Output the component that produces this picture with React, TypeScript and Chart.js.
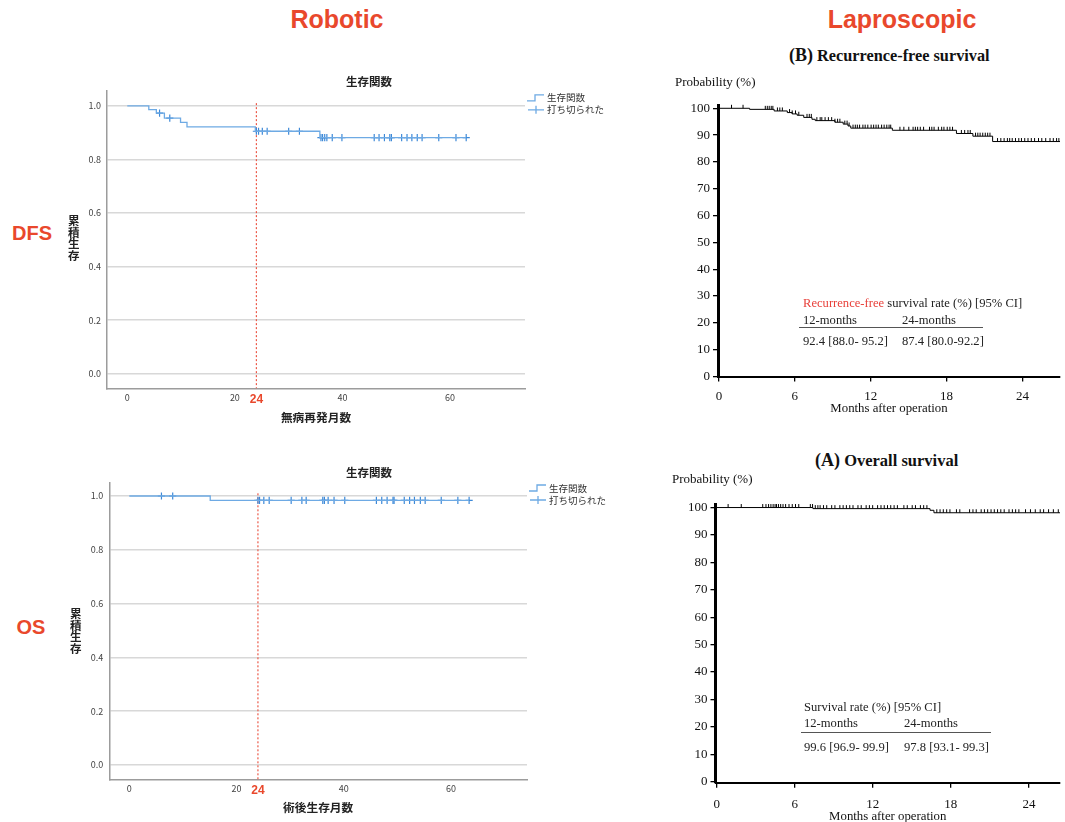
import React, { useEffect, useRef } from "react";
import { Chart, registerables } from "chart.js";

Chart.register(...registerables);

// ---------------- data ----------------
// Robotic (SPSS style) – months / cumulative survival
const roboXTicks = [0, 20, 24, 40, 60];
const roboYTicks = [0, 0.2, 0.4, 0.6, 0.8, 1.0];
const roboLegendLabels = ["生存関数", "打ち切られた"];

const roboDfsTimes = [0, 4.0, 5.4, 6.9, 9.9, 11.1, 23.8, 35.8, 63.0];
const roboDfsSurv = [1.0, 0.986, 0.973, 0.954, 0.938, 0.921, 0.905, 0.881, 0.881];
const roboDfsCensor = [6.0, 7.9, 24.0, 24.4, 25.1, 26.0, 30.0, 32.0, 36.0, 36.3, 36.7, 37.1, 38.1, 39.9, 45.9, 46.8, 47.8, 48.8, 49.1, 51.0, 52.0, 52.9, 53.9, 54.8, 57.9, 61.1, 63.0];

const roboOsTimes = [0, 15.1, 63.4];
const roboOsSurv = [1.0, 0.984, 0.984];
const roboOsCensor = [6.0, 8.1, 24.0, 24.3, 25.1, 26.1, 30.2, 32.2, 33.0, 36.1, 36.4, 37.1, 38.2, 40.2, 46.1, 47.1, 48.1, 49.2, 49.4, 51.3, 52.3, 53.2, 54.3, 55.2, 58.2, 61.3, 63.4];

// Laparoscopic (published figure) – months / probability (%)
const lapXTicks = [0, 6, 12, 18, 24];
const lapYTicks = [0, 10, 20, 30, 40, 50, 60, 70, 80, 90, 100];

const lapRfsTimes = [0, 2.42, 4.36, 5.4, 5.79, 6.18, 6.7, 7.35, 7.61, 9.17, 9.82, 10.2, 10.42, 13.71, 18.78, 20.08, 21.64, 27.0];
const lapRfsSurv = [100, 99.6, 99.0, 98.4, 97.9, 97.4, 96.6, 95.9, 95.4, 94.8, 94.1, 93.4, 92.6, 91.8, 90.6, 89.6, 87.6, 87.6];
const lapRfsCensor = [0.99, 1.9, 3.66, 3.82, 3.97, 4.13, 4.26, 4.62, 4.81, 5.01, 5.58, 5.79, 6.05, 6.31, 6.96, 7.14, 7.3, 7.74, 8.0, 8.13, 8.39, 8.65, 8.91, 9.17, 9.38, 9.56, 9.95, 10.13, 10.29, 10.6, 10.78, 10.94, 11.12, 11.38, 11.56, 11.77, 12.03, 12.23, 12.42, 12.6, 12.86, 13.06, 13.27, 13.45, 13.58, 14.31, 14.62, 15.01, 15.35, 15.53, 15.71, 15.92, 16.18, 16.65, 16.83, 17.01, 17.35, 17.61, 17.79, 18.05, 18.26, 18.47, 19.17, 19.43, 19.69, 19.87, 20.29, 20.47, 20.65, 20.86, 21.06, 21.25, 21.43, 22.03, 22.29, 22.55, 22.81, 22.99, 23.19, 23.45, 23.71, 23.92, 24.18, 24.44, 24.7, 24.96, 25.27, 25.53, 25.84, 26.18, 26.44, 26.7, 26.88];

const lapOsTimes = [0, 7.4, 16.4, 16.7, 26.4];
const lapOsSurv = [100, 99.6, 99.0, 98.1, 98.1];
const lapOsCensor = [0.88, 1.89, 3.54, 3.79, 3.99, 4.17, 4.34, 4.49, 4.6, 4.75, 4.92, 5.1, 5.3, 5.56, 5.81, 6.06, 6.31, 7.2, 7.37, 7.58, 7.78, 7.95, 8.21, 8.46, 8.84, 9.09, 9.47, 9.72, 9.97, 10.23, 10.48, 10.86, 11.11, 11.49, 11.74, 11.99, 12.37, 12.63, 12.88, 13.13, 13.38, 13.64, 13.89, 14.39, 14.65, 15.03, 15.28, 15.66, 15.91, 16.16, 16.92, 17.17, 17.42, 17.68, 17.93, 18.43, 18.69, 19.44, 19.7, 19.95, 20.33, 20.58, 20.83, 21.09, 21.34, 21.59, 21.84, 22.1, 22.47, 22.73, 22.98, 23.23, 23.74, 24.12, 24.49, 24.87, 25.13, 25.51, 25.88, 26.26];

// ---------------- styling ----------------
const SANS_JP = '"Noto Sans CJK JP", "Noto Sans", sans-serif';
const SERIF = '"Liberation Serif", "DejaVu Serif", serif';
const SANS = '"Liberation Sans", Arial, sans-serif';
const RED = "#e9482c";
const DASH_RED = "#ec5a4a";
const ROBO_LINE = "#6eaae4";
const ROBO_CROSS = "#3d89d8";

function survAt(times: number[], surv: number[], t: number) {
  let s = surv[0];
  for (let i = 0; i < times.length; i++) if (times[i] <= t) s = surv[i];
  return s;
}
const stepPoints = (times: number[], surv: number[]) => times.map((t, i) => ({ x: t, y: surv[i] }));
const censorPoints = (times: number[], surv: number[], cens: number[]) =>
  cens.map((c) => ({ x: c, y: survAt(times, surv, c) }));

const roboExtras = {
  id: "roboExtras",
  beforeDatasetsDraw(chart: any) {
    const { ctx, chartArea, scales } = chart;
    const px = scales.x.getPixelForValue(24);
    ctx.save();
    ctx.strokeStyle = DASH_RED;
    ctx.lineWidth = 1.2;
    ctx.setLineDash([2, 2]);
    ctx.beginPath();
    ctx.moveTo(px, scales.y.getPixelForValue(1.01));
    ctx.lineTo(px, chartArea.bottom);
    ctx.stroke();
    ctx.restore();
  },
  afterDraw(chart: any) {
    const { ctx, chartArea, scales } = chart;
    const x0 = chartArea.right + 2;
    const r1 = scales.y.getPixelForValue(1.0) - 8;
    const r2 = r1 + 12;
    ctx.save();
    ctx.lineWidth = 1.3;
    ctx.strokeStyle = ROBO_LINE;
    ctx.beginPath();
    ctx.moveTo(x0, r1 + 3);
    ctx.lineTo(x0 + 8, r1 + 3);
    ctx.lineTo(x0 + 8, r1 - 3);
    ctx.lineTo(x0 + 17, r1 - 3);
    ctx.stroke();
    ctx.beginPath();
    ctx.moveTo(x0 + 1, r2);
    ctx.lineTo(x0 + 17, r2);
    ctx.moveTo(x0 + 9, r2 - 4);
    ctx.lineTo(x0 + 9, r2 + 4);
    ctx.stroke();
    ctx.fillStyle = "#333";
    ctx.font = `9.5px ${SANS_JP}`;
    ctx.textBaseline = "middle";
    ctx.fillText(roboLegendLabels[0], x0 + 20, r1);
    ctx.fillText(roboLegendLabels[1], x0 + 20, r2);
    ctx.restore();
  },
};

function roboConfig(p: any) {
  return {
    type: "scatter",
    data: {
      datasets: [
        {
          data: stepPoints(p.times, p.surv),
          showLine: true,
          stepped: true,
          borderColor: ROBO_LINE,
          borderWidth: 1.3,
          pointRadius: 0,
          fill: false,
        },
        {
          data: censorPoints(p.times, p.surv, p.censor),
          showLine: false,
          pointStyle: "cross",
          pointRadius: 3.6,
          pointBorderColor: ROBO_CROSS,
          pointBackgroundColor: ROBO_CROSS,
          pointBorderWidth: 1.2,
        },
      ],
    },
    options: {
      animation: false,
      responsive: false,
      events: [],
      layout: { padding: { left: 0, right: p.padRight, top: p.padTop, bottom: 0 } },
      plugins: { legend: { display: false }, tooltip: { enabled: false }, title: { display: false } },
      scales: {
        x: {
          type: "linear",
          min: p.xMin,
          max: p.xMax,
          afterBuildTicks: (s: any) => {
            s.ticks = roboXTicks.map((v) => ({ value: v }));
          },
          afterFit: (s: any) => {
            s.height = p.xHeight;
          },
          grid: { display: false, drawTicks: false },
          border: { display: true, color: "#9c9c9c", width: 1.5 },
          ticks: {
            autoSkip: false,
            maxRotation: 0,
            padding: 4,
            callback: (v: any) => String(v),
            font: (c: any) =>
              c.tick && c.tick.value === 24
                ? { family: SANS, size: 12, weight: "bold" }
                : { family: SANS_JP, size: 9 },
            color: (c: any) => (c.tick && c.tick.value === 24 ? RED : "#444"),
          },
          title: {
            display: true,
            text: p.xTitle,
            color: "#222",
            font: { family: SANS_JP, size: 11.7, weight: "bold" },
            padding: { top: 0, bottom: p.titlePad },
          },
        },
        y: {
          type: "linear",
          min: p.yMin,
          max: p.yMax,
          afterBuildTicks: (s: any) => {
            s.ticks = roboYTicks.map((v) => ({ value: v }));
          },
          afterFit: (s: any) => {
            s.width = p.yWidth;
          },
          grid: { color: "#d8d8d8", lineWidth: 1.5, drawTicks: false },
          border: { display: true, color: "#9c9c9c", width: 1.5 },
          ticks: {
            padding: 6,
            color: "#444",
            font: { family: SANS_JP, size: 9 },
            callback: (v: any) => Number(v).toFixed(1),
          },
        },
      },
    },
    plugins: [roboExtras],
  };
}

function lapConfig(p: any) {
  const tickFont = { family: SERIF, size: 13 };
  return {
    type: "scatter",
    data: {
      datasets: [
        {
          data: stepPoints(p.times, p.surv),
          showLine: true,
          stepped: true,
          borderColor: "#000",
          borderWidth: 1,
          pointRadius: 0,
          fill: false,
        },
        {
          data: censorPoints(p.times, p.surv, p.censor),
          showLine: false,
          pointStyle: "dash",
          pointRotation: 270,
          pointRadius: 3.5,
          pointBorderColor: "#000",
          pointBorderWidth: 1,
          clip: 6,
        },
      ],
    },
    options: {
      animation: false,
      responsive: false,
      events: [],
      layout: { padding: { left: 0, right: 0, top: p.padTop, bottom: 0 } },
      plugins: { legend: { display: false }, tooltip: { enabled: false }, title: { display: false } },
      scales: {
        x: {
          type: "linear",
          min: p.xMin,
          max: p.xMax,
          afterBuildTicks: (s: any) => {
            s.ticks = lapXTicks.map((v) => ({ value: v }));
          },
          afterFit: (s: any) => {
            s.height = p.xHeight;
          },
          grid: { display: true, drawOnChartArea: false, drawTicks: true, tickLength: 5, color: "#000", lineWidth: 1.3 },
          border: { display: true, color: "#000", width: 2 },
          ticks: { autoSkip: false, maxRotation: 0, padding: p.xTickPad, color: "#111", font: tickFont },
          title: {
            display: true,
            text: "Months after operation",
            color: "#111",
            font: { family: SERIF, size: 12.8, lineHeight: 1 },
            padding: { top: 0, bottom: p.titlePad },
          },
        },
        y: {
          type: "linear",
          min: p.yMin,
          max: p.yMax,
          afterBuildTicks: (s: any) => {
            s.ticks = lapYTicks.map((v) => ({ value: v }));
          },
          afterFit: (s: any) => {
            s.width = p.yWidth;
          },
          grid: { display: true, drawOnChartArea: false, drawTicks: true, tickLength: 5, color: "#000", lineWidth: 1.3 },
          border: { display: true, color: "#000", width: 3 },
          ticks: { padding: 3, color: "#111", font: tickFont },
        },
      },
    },
  };
}

function ChartBox({ left, top, width, height, make }: any) {
  const ref = useRef<HTMLCanvasElement>(null);
  useEffect(() => {
    const chart = new Chart(ref.current as HTMLCanvasElement, make());
    return () => chart.destroy();
  }, []);
  return (
    <div style={{ position: "absolute", left, top, width, height }}>
      <canvas ref={ref} width={width} height={height} style={{ display: "block", width, height }} />
    </div>
  );
}

function T({ x, y, align = "center", style, children }: any) {
  const tx = align === "center" ? "-50%" : align === "right" ? "-100%" : "0";
  return (
    <div
      style={{
        position: "absolute",
        left: x,
        top: y,
        transform: `translate(${tx}, -50%)`,
        whiteSpace: "nowrap",
        lineHeight: 1,
        ...style,
      }}
    >
      {children}
    </div>
  );
}

const headerStyle = { fontFamily: SANS, fontWeight: "bold", fontSize: 25, color: RED };
const sideStyle = { fontFamily: SANS, fontWeight: "bold", fontSize: 20, color: RED };
const jpTitle = { fontFamily: SANS_JP, fontWeight: "bold", fontSize: 11.5, color: "#222" };
const vertTitle = {
  fontFamily: SANS_JP,
  fontWeight: "bold",
  fontSize: 11.5,
  color: "#222",
  writingMode: "vertical-rl",
  textOrientation: "upright",
  lineHeight: 1,
  transform: "translate(-50%, -50%)",
};
const serifText = { fontFamily: SERIF, fontSize: 12.6, color: "#222" };
const serifLabel = { fontFamily: SERIF, fontSize: 13, color: "#111" };

export default function App() {
  return (
    <div
      style={{
        position: "absolute",
        left: 0,
        top: 0,
        width: 1065,
        height: 822,
        overflow: "hidden",
        background: "#fff",
      }}
    >
      <T x={337} y={19} style={headerStyle}>Robotic</T>
      <T x={902} y={19} style={headerStyle}>Laproscopic</T>
      <T x={32} y={233} style={sideStyle}>DFS</T>
      <T x={31} y={627} style={sideStyle}>OS</T>

      {/* Robotic DFS */}
      <ChartBox
        left={55}
        top={70}
        width={565}
        height={365}
        make={() =>
          roboConfig({
            times: roboDfsTimes,
            surv: roboDfsSurv,
            censor: roboDfsCensor,
            xMin: -3.77,
            xMax: 73.93,
            yMin: -0.0545,
            yMax: 1.0564,
            yWidth: 52,
            xHeight: 46.7,
            padRight: 95,
            padTop: 20.7,
            titlePad: 10.3,
            xTitle: "無病再発月数",
          })
        }
      />
      <T x={369} y={82} style={jpTitle}>生存関数</T>
      <div style={{ position: "absolute", left: 73, top: 238, ...vertTitle } as any}>累積生存</div>

      {/* Robotic OS */}
      <ChartBox
        left={55}
        top={455}
        width={565}
        height={367}
        make={() =>
          roboConfig({
            times: roboOsTimes,
            surv: roboOsSurv,
            censor: roboOsCensor,
            xMin: -3.73,
            xMax: 74.2,
            yMin: -0.0532,
            yMax: 1.0483,
            yWidth: 54.3,
            xHeight: 42.7,
            padRight: 93,
            padTop: 28,
            titlePad: 7,
            xTitle: "術後生存月数",
          })
        }
      />
      <T x={369} y={473} style={jpTitle}>生存関数</T>
      <div style={{ position: "absolute", left: 75, top: 631, ...vertTitle } as any}>累積生存</div>

      {/* Laparoscopic RFS */}
      <ChartBox
        left={660}
        top={85}
        width={405}
        height={335}
        make={() =>
          lapConfig({
            times: lapRfsTimes,
            surv: lapRfsSurv,
            censor: lapRfsCensor,
            xMin: -0.08,
            xMax: 26.97,
            yMin: 0,
            yMax: 101,
            yWidth: 58,
            xHeight: 43.5,
            padTop: 20.6,
            xTickPad: 7,
            titlePad: 4.6,
          })
        }
      />
      <T x={789} y={55} align="left" style={{ fontFamily: SERIF, fontWeight: "bold", color: "#111" }}>
        <span style={{ fontSize: 18 }}>(B)</span>
        <span style={{ fontSize: 16.3 }}> Recurrence-free survival</span>
      </T>
      <T x={675} y={81} align="left" style={serifLabel}>Probability (%)</T>
      <T x={803} y={303} align="left" style={serifText}>
        <span style={{ color: "#e8403a" }}>Recurrence-free</span> survival rate (%) [95% CI]
      </T>
      <T x={803} y={320} align="left" style={serifText}>12-months</T>
      <T x={902} y={320} align="left" style={serifText}>24-months</T>
      <div style={{ position: "absolute", left: 799, top: 327, width: 184, height: 0, borderTop: "1px solid #555" }} />
      <T x={803} y={341} align="left" style={serifText}>92.4 [88.0- 95.2]</T>
      <T x={902} y={341} align="left" style={serifText}>87.4 [80.0-92.2]</T>

      {/* Laparoscopic OS */}
      <ChartBox
        left={660}
        top={480}
        width={405}
        height={344}
        make={() =>
          lapConfig({
            times: lapOsTimes,
            surv: lapOsSurv,
            censor: lapOsCensor,
            xMin: -0.09,
            xMax: 26.39,
            yMin: -0.4,
            yMax: 101,
            yWidth: 55.5,
            xHeight: 41.2,
            padTop: 24.8,
            xTickPad: 9,
            titlePad: 0.6,
          })
        }
      />
      <T x={815} y={460} align="left" style={{ fontFamily: SERIF, fontWeight: "bold", color: "#111" }}>
        <span style={{ fontSize: 18 }}>(A)</span>
        <span style={{ fontSize: 16.5 }}> Overall survival</span>
      </T>
      <T x={672} y={478} align="left" style={serifLabel}>Probability (%)</T>
      <T x={804} y={707} align="left" style={serifText}>Survival rate (%) [95% CI]</T>
      <T x={804} y={723} align="left" style={serifText}>12-months</T>
      <T x={904} y={723} align="left" style={serifText}>24-months</T>
      <div style={{ position: "absolute", left: 801, top: 732, width: 190, height: 0, borderTop: "1px solid #555" }} />
      <T x={804} y={747} align="left" style={serifText}>99.6 [96.9- 99.9]</T>
      <T x={904} y={747} align="left" style={serifText}>97.8 [93.1- 99.3]</T>
    </div>
  );
}
